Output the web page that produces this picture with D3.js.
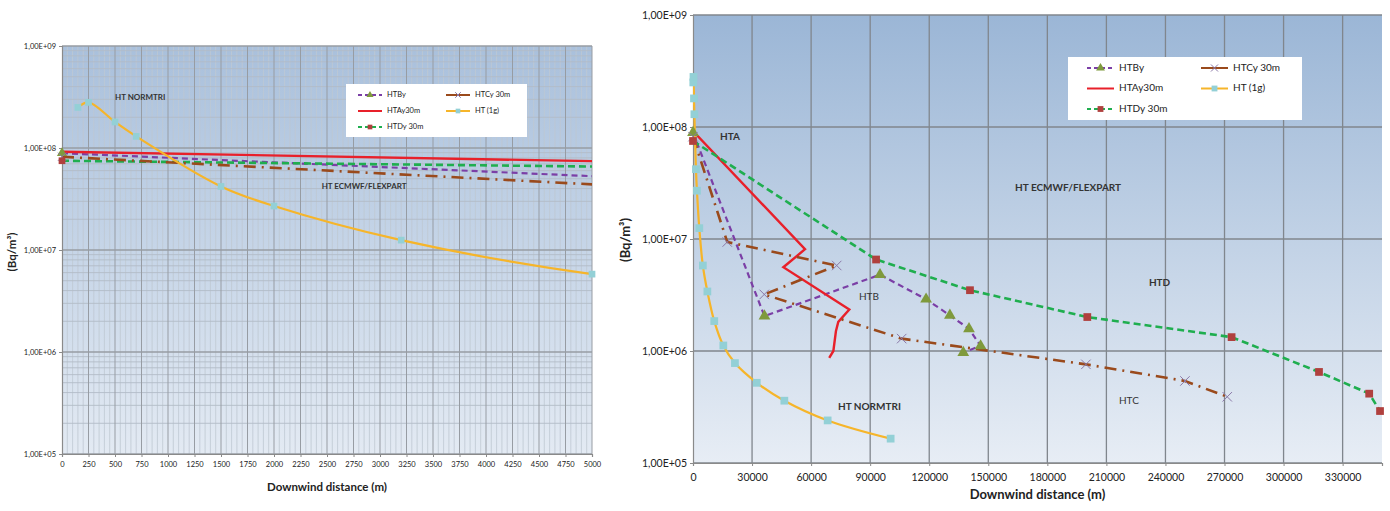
<!DOCTYPE html>
<html>
<head>
<meta charset="utf-8">
<script src="https://cdn.jsdelivr.net/npm/d3@7"></script>
<style>
  body { margin: 0; background: #fff; }
  text { font-family: Lato, "Open Sans", sans-serif; }
</style>
</head>
<body>
<svg id="chart" width="1390" height="511"></svg>
<script>
// Series data: [downwind distance (m), concentration (Bq/m3)]
const htBy = [[0, 8.9e7], [36300, 2.05e6], [95000, 4.8e6], [118400, 2.9e6], [130500, 2.08e6], [140200, 1.58e6], [146100, 1.11e6], [137300, 9.7e5]];
const htAy30 = [[0, 9.2e7], [56900, 8.1e6], [45900, 5.6e6], [79400, 2.35e6], [73800, 1.82e6], [72600, 1.5e6], [71300, 1.0e6], [69200, 8.7e5]];
const htDy30 = [[0, 7.5e7], [93000, 6.56e6], [140700, 3.49e6], [200300, 2.01e6], [273600, 1.33e6], [318000, 6.5e5], [343500, 4.16e5], [349000, 2.91e5]];
const htCy30 = [[0, 8.2e7], [17400, 9.4e6], [73000, 5.8e6], [36200, 3.2e6], [106000, 1.29e6], [199600, 7.6e5], [249900, 5.4e5], [271400, 3.9e5]];
const ht1g = [[150, 2.5e8], [250, 2.8e8], [500, 1.8e8], [700, 1.3e8], [1500, 4.2e7], [2000, 2.7e7], [3200, 1.25e7], [5000, 5.8e6],
  [7300, 3.4e6], [10800, 1.85e6], [15400, 1.12e6], [21300, 7.8e5], [32400, 5.2e5], [46400, 3.6e5], [68400, 2.4e5], [100400, 1.65e5]];

const seriesNames = ["HTBy", "HTAy30m", "HTDy 30m", "HTCy 30m", "HT (1g)"];
const seriesData = [htBy, htAy30, htDy30, htCy30, ht1g];

// Tick values
const yTicks = [1e5, 1e6, 1e7, 1e8, 1e9];
const leftXTicks = [0, 250, 500, 750, 1000, 1250, 1500, 1750, 2000, 2250, 2500, 2750, 3000, 3250, 3500, 3750, 4000, 4250, 4500, 4750, 5000];
const rightXTicks = [0, 30000, 60000, 90000, 120000, 150000, 180000, 210000, 240000, 270000, 300000, 330000];

// look of each series
const styles = [
  { color: "#7b3fa6", dash: "6,4", width: 2.2, marker: "triangle", markerFill: "#7f9a3c", curve: d3.curveLinear },
  { color: "#e8202a", dash: null, width: 2.4, marker: null, curve: d3.curveLinear },
  { color: "#1fae4f", dash: "7,4", width: 2.6, marker: "square", markerFill: "#b0403e", curve: d3.curveLinear },
  { color: "#9a4a1c", dash: "12,6,2,6", width: 2.6, marker: "times", markerFill: "#8a78a8", curve: d3.curveLinear },
  { color: "#f6b52a", dash: null, width: 2.2, marker: "square", markerFill: "#93d0d6", curve: d3.curveCatmullRom.alpha(0.5) }
];
// markers drawn in this order so the squares of HTDy sit on top
const markerOrder = [0, 3, 4, 2];

const svg = d3.select("#chart");
const defs = svg.append("defs");

function fmtExp(v) {
  const e = Math.round(Math.log10(v));
  return "1,00E+" + String(e).padStart(2, "0");
}

function markerPath(type, size) {
  if (type === "triangle") return d3.symbol(d3.symbolTriangle, size)();
  if (type === "times") return d3.symbol(d3.symbolTimes || d3.symbolX, size)();
  return d3.symbol(d3.symbolSquare, size)();
}

function drawChart(cfg) {
  const g = svg.append("g");
  const x = d3.scaleLinear().domain([0, cfg.xMax]).range([cfg.left, cfg.right]);
  const y = d3.scaleLog().domain([1e5, 1e9]).range([cfg.bottom, cfg.top]);

  // background gradient
  const grad = defs.append("linearGradient").attr("id", cfg.id + "-bg")
    .attr("x1", 0).attr("y1", 0).attr("x2", 0).attr("y2", 1);
  grad.append("stop").attr("offset", "0%").attr("stop-color", cfg.bgTop);
  grad.append("stop").attr("offset", "100%").attr("stop-color", cfg.bgBottom);

  g.append("rect")
    .attr("x", cfg.left).attr("y", cfg.top)
    .attr("width", cfg.right - cfg.left).attr("height", cfg.bottom - cfg.top)
    .attr("fill", "url(#" + cfg.id + "-bg)");

  // minor grid
  if (cfg.minorGrid) {
    const minorX = d3.range(0, cfg.xMax + 1, 50).filter(v => v % 250 !== 0);
    g.selectAll(".vminor").data(minorX).enter().append("line")
      .attr("x1", d => x(d)).attr("x2", d => x(d))
      .attr("y1", cfg.top).attr("y2", cfg.bottom)
      .attr("stroke", "#bfc8d2").attr("stroke-width", 0.8);
    const minorY = [];
    [1e5, 1e6, 1e7, 1e8].forEach(dec => { for (let k = 2; k < 10; k++) minorY.push(dec * k); });
    g.selectAll(".hminor").data(minorY).enter().append("line")
      .attr("x1", cfg.left).attr("x2", cfg.right)
      .attr("y1", d => y(d)).attr("y2", d => y(d))
      .attr("stroke", "#b2bcc7").attr("stroke-width", 0.9);
  }

  // major grid
  g.selectAll(".vmajor").data(cfg.xTicks.filter(v => v > 0)).enter().append("line")
    .attr("x1", d => x(d)).attr("x2", d => x(d))
    .attr("y1", cfg.top).attr("y2", cfg.bottom)
    .attr("stroke", cfg.gridColor).attr("stroke-width", cfg.minorGrid ? 1 : 1.3);
  g.selectAll(".hmajor").data(yTicks).enter().append("line")
    .attr("x1", cfg.left).attr("x2", cfg.right)
    .attr("y1", d => y(d)).attr("y2", d => y(d))
    .attr("stroke", cfg.gridColor).attr("stroke-width", 1.4);

  // axes
  const xAxis = g.append("g")
    .attr("transform", "translate(0," + cfg.bottom + ")")
    .call(d3.axisBottom(x).tickValues(cfg.xTicks).tickSize(3).tickFormat(d3.format("d")));
  xAxis.select(".domain").attr("stroke", "#8a8a8a").attr("stroke-width", 1.2);
  xAxis.selectAll(".tick line").attr("stroke", "#8a8a8a");
  xAxis.selectAll("text").attr("font-size", cfg.tickFont).attr("fill", "#222").attr("dy", cfg.xTickDy);

  const yAxis = g.append("g")
    .attr("transform", "translate(" + cfg.left + ",0)")
    .call(d3.axisLeft(y).tickValues(yTicks).tickSize(3).tickFormat(fmtExp));
  yAxis.select(".domain").attr("stroke", "#8a8a8a").attr("stroke-width", 1.2);
  yAxis.selectAll(".tick line").attr("stroke", "#8a8a8a");
  yAxis.selectAll("text").attr("font-size", cfg.tickFont).attr("fill", "#222");

  // axis titles
  g.append("text")
    .attr("x", (cfg.left + cfg.right) / 2).attr("y", cfg.xTitleY)
    .attr("text-anchor", "middle").attr("font-size", cfg.titleFont).attr("font-weight", "bold")
    .attr("fill", "#222").text("Downwind distance (m)");
  g.append("text")
    .attr("transform", "translate(" + cfg.yTitleX + "," + cfg.yTitleY + ") rotate(-90)")
    .attr("text-anchor", "middle").attr("font-size", cfg.titleFont).attr("font-weight", "bold")
    .attr("fill", "#222").text("(Bq/m³)");

  // series lines
  defs.append("clipPath").attr("id", cfg.id + "-clip")
    .append("rect")
    .attr("x", cfg.left).attr("y", cfg.top)
    .attr("width", cfg.right - cfg.left).attr("height", cfg.bottom - cfg.top);

  const plot = g.append("g").attr("clip-path", "url(#" + cfg.id + "-clip)");
  seriesData.forEach((data, i) => {
    const st = styles[i];
    const line = d3.line().x(d => x(d[0])).y(d => y(d[1])).curve(st.curve);
    plot.append("path")
      .attr("d", line(data))
      .attr("fill", "none")
      .attr("stroke", st.color)
      .attr("stroke-width", st.width)
      .attr("stroke-dasharray", st.dash);
  });

  // markers
  markerOrder.forEach(i => {
    const st = styles[i];
    const data = seriesData[i];
    g.selectAll(null).data(data.filter(d => d[0] <= cfg.xMax)).enter().append("path")
      .attr("d", markerPath(st.marker, cfg.markerSize))
      .attr("transform", d => "translate(" + x(d[0]) + "," + y(d[1]) + ")")
      .attr("fill", st.marker === "times" ? "none" : st.markerFill)
      .attr("stroke", st.marker === "times" ? st.markerFill : "none")
      .attr("stroke-width", 1);
  });

  // annotations
  cfg.notes.forEach(n => {
    g.append("text")
      .attr("x", x(n.x)).attr("y", y(n.y))
      .attr("dominant-baseline", "middle")
      .attr("font-size", n.size).attr("font-weight", n.weight || "bold")
      .attr("fill", "#333").text(n.text);
  });

  // legend
  const lg = cfg.legend;
  g.append("rect").attr("x", lg.x).attr("y", lg.y).attr("width", lg.w).attr("height", lg.h).attr("fill", "#fff");
  const order = [0, 3, 1, 4, 2];
  order.forEach((si, k) => {
    const col = k % 2, row = Math.floor(k / 2);
    const st = styles[si];
    const sx = lg.x + lg.padX + col * lg.colW;
    const sy = lg.y + lg.padY + row * lg.rowH;
    g.append("line")
      .attr("x1", sx).attr("x2", sx + lg.sampleW)
      .attr("y1", sy).attr("y2", sy)
      .attr("stroke", st.color).attr("stroke-width", 2)
      .attr("stroke-dasharray", si === 3 ? null : (st.dash ? "4,3" : null));
    if (st.marker) {
      g.append("path")
        .attr("d", markerPath(st.marker, lg.markerSize))
        .attr("transform", "translate(" + (sx + lg.sampleW / 2) + "," + sy + ")")
        .attr("fill", st.marker === "times" ? "none" : st.markerFill)
        .attr("stroke", st.marker === "times" ? st.markerFill : "none");
    }
    g.append("text")
      .attr("x", sx + lg.sampleW + 5).attr("y", sy)
      .attr("dominant-baseline", "middle")
      .attr("font-size", lg.font).attr("fill", "#222")
      .text(seriesNames[si]);
  });
}

drawChart({
  id: "left", left: 62, right: 592, top: 46, bottom: 454, xMax: 5000,
  xTicks: leftXTicks, minorGrid: true, gridColor: "#979ca3",
  bgTop: "#a9c0dc", bgBottom: "#e3eaf3",
  tickFont: 7.5, xTickDy: "0.9em", titleFont: 11.5,
  xTitleY: 491, yTitleX: 16, yTitleY: 252, markerSize: 45,
  notes: [
    { text: "HT NORMTRI", x: 500, y: 3.1e8, size: 8 },
    { text: "HT ECMWF/FLEXPART", x: 2450, y: 4.15e7, size: 8 }
  ],
  legend: { x: 346, y: 84, w: 181, h: 53, padX: 12, padY: 11, colW: 88, rowH: 16, sampleW: 24, font: 7.5, markerSize: 22 }
});

drawChart({
  id: "right", left: 693, right: 1382, top: 15, bottom: 463, xMax: 350000,
  xTicks: rightXTicks, minorGrid: false, gridColor: "#80868d",
  bgTop: "#9bb6d6", bgBottom: "#e7edf5",
  tickFont: 10.5, xTickDy: "1.1em", titleFont: 13,
  xTitleY: 499, yTitleX: 630, yTitleY: 240, markerSize: 60,
  notes: [
    { text: "HTA", x: 13700, y: 8.1e7, size: 10 },
    { text: "HT ECMWF/FLEXPART", x: 163600, y: 2.8e7, size: 10 },
    { text: "HTD", x: 231600, y: 4.0e6, size: 10 },
    { text: "HTC", x: 216400, y: 3.55e5, size: 10, weight: "normal" },
    { text: "HTB", x: 84300, y: 3.0e6, size: 10, weight: "normal" },
    { text: "HT NORMTRI", x: 73650, y: 3.14e5, size: 10 }
  ],
  legend: { x: 1068, y: 57, w: 234, h: 63, padX: 19, padY: 11, colW: 114, rowH: 20.5, sampleW: 27, font: 10, markerSize: 34 }
});
</script>
</body>
</html>
